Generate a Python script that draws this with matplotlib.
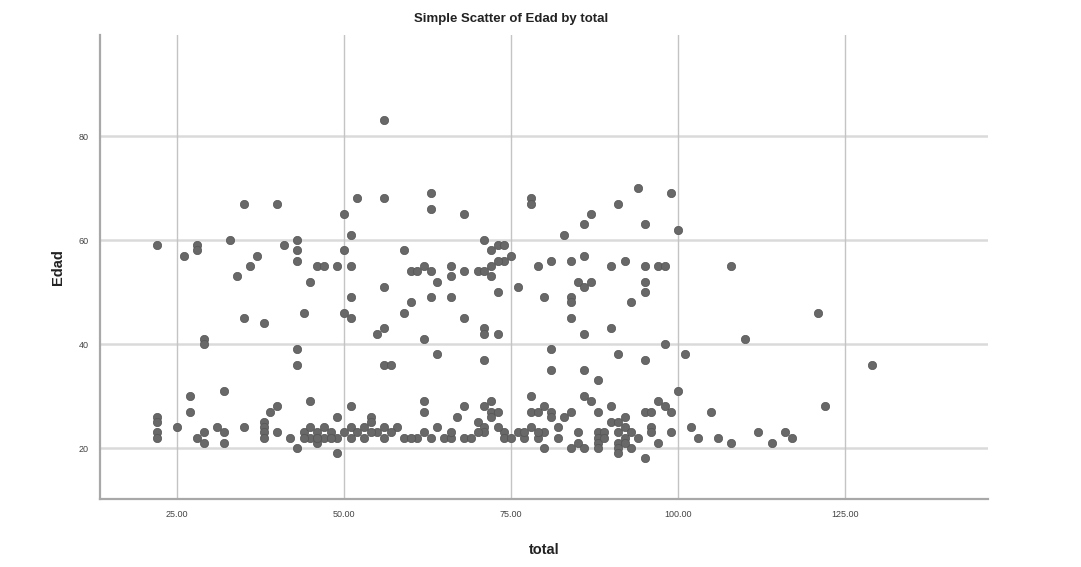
import matplotlib
matplotlib.use("Agg")
import numpy as np
from matplotlib import pyplot as plt

# points (total, Edad)
upper_total = [56, 35, 40, 52, 56, 63, 63, 50, 68, 78, 78, 94, 99, 91, 87, 86, 95, 100, 83, 51,
               22, 26, 28, 28, 33, 37, 36, 34, 41, 43, 43, 43, 45, 46, 47, 49, 50, 51, 51, 50, 51,
               44, 35, 38, 29, 29, 43, 43, 56, 59, 60, 61, 62, 63, 60, 59, 55, 56, 56, 57, 32,
               71, 72, 73, 74, 75, 74, 73, 72, 66, 66, 68, 70, 71, 72, 64, 63, 66, 73, 76, 68,
               62, 64, 71, 71, 73, 71,
               79, 81, 84, 86, 90, 92, 95, 97, 98, 85, 87, 86, 95, 95, 80, 84, 84, 93, 84, 90,
               86, 98, 81, 91, 95, 101, 81, 86, 88, 100,
               108, 110, 121, 129, 122, 112, 114, 116, 117, 108, 105, 106, 102, 103]
upper_edad = [83, 67, 67, 68, 68, 69, 66, 65, 65, 68, 67, 70, 69, 67, 65, 63, 63, 62, 61, 61,
              59, 57, 59, 58, 60, 57, 55, 53, 59, 60, 58, 56, 52, 55, 55, 55, 58, 55, 49, 46, 45,
              46, 45, 44, 41, 40, 39, 36, 51, 58, 54, 54, 55, 54, 48, 46, 42, 43, 36, 36, 31,
              60, 58, 59, 59, 57, 56, 56, 55, 55, 53, 54, 54, 54, 53, 52, 49, 49, 50, 51, 45,
              41, 38, 43, 42, 42, 37,
              55, 56, 56, 57, 55, 56, 55, 55, 55, 52, 52, 51, 52, 50, 49, 49, 48, 48, 45, 43,
              42, 40, 39, 38, 37, 38, 35, 35, 33, 31,
              55, 41, 46, 36, 28, 23, 21, 23, 22, 21, 27, 22, 24, 22]

lower_total = [22, 22, 22, 22, 25, 27, 27, 28, 29, 29, 31, 32, 32, 35, 38, 38, 38, 38, 39, 40,
               40, 45, 42, 43, 44, 45, 46, 46, 47, 47, 48, 49, 49, 51, 49, 50, 51, 51, 53, 53,
               54, 54, 55, 56, 56, 58, 59, 62, 62, 61, 62, 63, 64, 65, 66, 67, 68, 68, 71, 72,
               72, 72, 70, 71, 71, 74, 74, 76, 77, 78, 73,
               78, 79, 80, 81, 81, 82, 83, 84, 77, 78, 79, 80, 80, 84, 85, 85, 86, 88, 88, 88,
               88, 89, 89, 86, 87, 88, 90, 90, 91, 92, 91, 92, 92, 93, 94, 91, 91, 91, 93, 92,
               95, 96, 97, 98, 99, 96, 96, 95, 97, 99,
               44, 45, 46, 48, 52, 54, 57, 60, 66, 69, 70, 73, 75, 79, 82]
lower_edad = [26, 25, 23, 22, 24, 30, 27, 22, 23, 21, 24, 23, 21, 24, 25, 24, 23, 22, 27, 28,
              23, 29, 22, 20, 23, 22, 23, 21, 24, 22, 23, 19, 26, 28, 22, 23, 24, 22, 24, 22,
              26, 25, 23, 24, 22, 24, 22, 29, 27, 22, 23, 22, 24, 22, 22, 26, 28, 22, 28, 29,
              27, 26, 25, 24, 23, 23, 22, 23, 22, 30, 27,
              27, 27, 28, 27, 26, 24, 26, 27, 23, 24, 22, 23, 20, 20, 23, 21, 20, 23, 22, 21,
              20, 23, 22, 30, 29, 27, 28, 25, 25, 26, 23, 24, 22, 23, 22, 21, 20, 19, 20, 21,
              27, 27, 29, 28, 27, 24, 23, 18, 21, 23,
              22, 24, 22, 22, 23, 23, 23, 22, 23, 22, 23, 24, 22, 23, 22]

total = np.array(upper_total + lower_total)
edad = np.array(upper_edad + lower_edad)

x_ticks = [25, 50, 75, 100, 125]
y_ticks = [20, 40, 60, 80]

plt.rcParams["font.family"] = ["Liberation Sans", "DejaVu Sans"]

fig = plt.figure(figsize=(10.81, 5.67), dpi=100)
ax = fig.add_axes([0.0925, 0.12, 0.8215, 0.818])

ax.set_xlim(13.5, 146.4)
ax.set_ylim(10.2, 99.4)

ax.set_xticks(x_ticks)
ax.set_xticklabels(["%.2f" % v for v in x_ticks])
ax.set_yticks(y_ticks)
ax.tick_params(length=0, labelsize=6.5, colors="#444444", pad=8)

for v in y_ticks:
    ax.axhline(v, color="#dadada", lw=1.8, zorder=0)
for v in x_ticks:
    ax.axvline(v, color="#c4c4c4", lw=1.0, zorder=0)

ax.scatter(total, edad, s=36, color="#686868", edgecolors="#555555", linewidths=0.5, zorder=3)

for side in ["top", "right"]:
    ax.spines[side].set_visible(False)
for side in ["left", "bottom"]:
    ax.spines[side].set_color("#a8a8a8")
    ax.spines[side].set_linewidth(1.6)

fig.text(0.473, 0.966, "Simple Scatter of Edad by total", ha="center", va="center",
         fontsize=9.5, fontweight="bold", color="#222222")
ax.set_xlabel("total", fontsize=10.5, fontweight="bold", color="#222222", labelpad=17)
ax.set_ylabel("Edad", fontsize=10.5, fontweight="bold", color="#222222", labelpad=10)

fig.savefig("out.png", dpi=100, facecolor="white")
